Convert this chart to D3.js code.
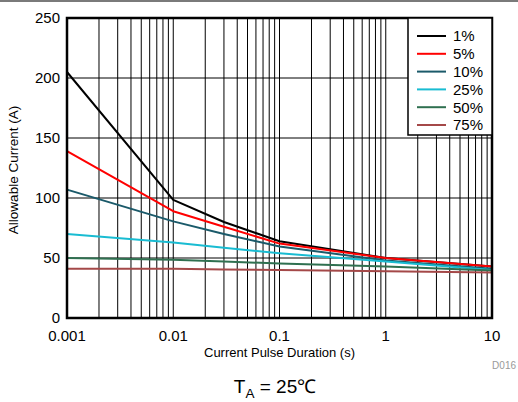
<!DOCTYPE html>
<html lang="en">
<head>
<meta charset="UTF-8">
<title>Allowable Current</title>
<script src="https://cdn.jsdelivr.net/npm/d3@7"></script>
<style>
  body { margin: 0; background: #fff; }
  svg { font-family: "Liberation Sans", Arial, sans-serif; display: block; }
</style>
</head>
<body>
<div id="chart"></div>
<script>
// pulse durations (s)
const durations = [0.001, 0.01, 0.03, 0.1, 1, 10];
// duty cycles and their curves (A)
const dutyLabels = ["1%", "5%", "10%", "25%", "50%", "75%"];
const duty1  = [205, 98.5, 80, 64, 50, 43];
const duty5  = [139, 89, 76, 62, 50, 43];
const duty10 = [107, 80.5, 70, 59.5, 48, 41];
const duty25 = [70, 63, 58.5, 54, 47, 40];
const duty50 = [50, 48.5, 47, 45.5, 43, 39.5];
const duty75 = [41, 41, 40.5, 40, 39, 38];
const xTicks = [0.001, 0.01, 0.1, 1, 10];
const xTickLabels = ["0.001", "0.01", "0.1", "1", "10"];
const yTicks = [0, 50, 100, 150, 200, 250];

const colors = ["#000000", "#ff0000", "#1b5a6a", "#19bcd2", "#2f7050", "#a44848"];
const series = [duty1, duty5, duty10, duty25, duty50, duty75];

const W = 518, H = 402;
const margin = { top: 18, right: 26, bottom: 84, left: 67 };
const width = W - margin.left - margin.right;
const height = H - margin.top - margin.bottom;

const svg = d3.select("#chart").append("svg")
  .attr("width", W).attr("height", H);

// grey strip at the top of the picture
svg.append("rect").attr("x", 0).attr("y", 0).attr("width", W).attr("height", 2)
  .attr("fill", "#7a7a7a");

const g = svg.append("g").attr("transform", `translate(${margin.left},${margin.top})`);

const x = d3.scaleLog().domain([0.001, 10]).range([0, width]);
const y = d3.scaleLinear().domain([0, 250]).range([height, 0]);

// vertical grid: every 1..9 per decade
const minor = [];
for (let d = -3; d < 1; d++) {
  for (let k = 1; k <= 9; k++) minor.push(k * Math.pow(10, d));
}
g.selectAll(".vgrid").data(minor).enter().append("line")
  .attr("x1", d => x(d)).attr("x2", d => x(d))
  .attr("y1", 0).attr("y2", height)
  .attr("stroke", "#000").attr("stroke-width", 1);

g.selectAll(".hgrid").data(yTicks.slice(1, -1)).enter().append("line")
  .attr("x1", 0).attr("x2", width)
  .attr("y1", d => y(d)).attr("y2", d => y(d))
  .attr("stroke", "#000").attr("stroke-width", 1);

// curves
const line = d3.line()
  .x((d, i) => x(durations[i]))
  .y(d => y(d));

series.forEach((s, i) => {
  g.append("path").datum(s)
    .attr("d", line)
    .attr("fill", "none")
    .attr("stroke", colors[i])
    .attr("stroke-width", 2)
    .attr("stroke-linejoin", "round");
});

// frame
g.append("rect").attr("x", 0).attr("y", 0)
  .attr("width", width).attr("height", height)
  .attr("fill", "none").attr("stroke", "#000").attr("stroke-width", 2.5);

// axes labels
g.selectAll(".ytick").data(yTicks).enter().append("text")
  .attr("x", -7).attr("y", d => y(d)).attr("dy", "0.36em")
  .attr("text-anchor", "end").attr("font-size", 15).text(d => d);

g.selectAll(".xtick").data(xTicks).enter().append("text")
  .attr("x", d => x(d)).attr("y", height + 23)
  .attr("text-anchor", "middle").attr("font-size", 15)
  .text((d, i) => xTickLabels[i]);

g.append("text")
  .attr("x", width / 2).attr("y", height + 39)
  .attr("text-anchor", "middle").attr("font-size", 13)
  .text("Current Pulse Duration (s)");

svg.append("text")
  .attr("transform", `translate(18,${margin.top + height / 2 + 2}) rotate(-90)`)
  .attr("text-anchor", "middle").attr("font-size", 13.5)
  .text("Allowable Current (A)");

svg.append("text")
  .attr("x", W - 2).attr("y", 369)
  .attr("text-anchor", "end").attr("font-size", 10).attr("fill", "#999")
  .text("D016");

const ta = svg.append("text")
  .attr("x", 275).attr("y", 393)
  .attr("text-anchor", "middle").attr("font-size", 19);
ta.append("tspan").text("T");
ta.append("tspan").attr("font-size", 13.5).attr("dy", 5).text("A");
ta.append("tspan").attr("dy", -5).text(" = 25\u2103");

// legend
const lgX = 408 - margin.left, lgY = 0, lgW = width - lgX, lgH = 117;
const lg = g.append("g");
lg.append("rect").attr("x", lgX).attr("y", lgY).attr("width", lgW).attr("height", lgH)
  .attr("fill", "#fff").attr("stroke", "#000").attr("stroke-width", 1.5);
dutyLabels.forEach((lab, i) => {
  const yy = 18 + i * 17.8;
  lg.append("line")
    .attr("x1", lgX + 9).attr("x2", lgX + 38)
    .attr("y1", yy).attr("y2", yy)
    .attr("stroke", colors[i]).attr("stroke-width", 2);
  lg.append("text")
    .attr("x", lgX + 45).attr("y", yy).attr("dy", "0.36em")
    .attr("font-size", 15).text(lab);
});
</script>
</body>
</html>
